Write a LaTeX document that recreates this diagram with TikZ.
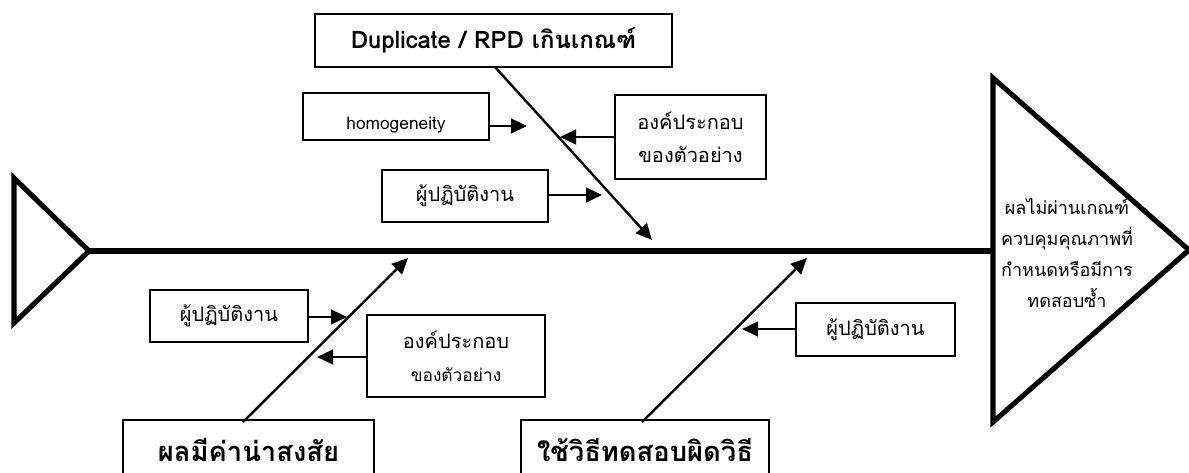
\documentclass[tikz,border=0pt]{standalone}
\usepackage{fontspec}
\setmainfont[Script=Thai]{Loma}
\usetikzlibrary{arrows.meta}
\tikzset{
  box/.style={draw, line width=1.5pt, inner sep=0pt, align=center, font=\fontsize{15}{25}\selectfont},
  headbox/.style={box, font=\bfseries\fontsize{18}{20}\selectfont},
  footbox/.style={box, font=\bfseries\fontsize{20.5}{22}\selectfont},
  size/.style 2 args={minimum width=#1*0.75pt, minimum height=#2*0.75pt},
  arr/.style={line width=1.8pt, -{Triangle[length=12pt,width=11pt]}},
  thick line/.style={line width=3.8pt, line join=miter},
}
\begin{document}
\begin{tikzpicture}[x=0.75pt,y=-0.75pt]
\useasboundingbox (0,0) rectangle (1189,472);
\begin{scope}
\clip (0,0) rectangle (1189,472);

% head and tail of the fish
\draw[thick line] (14,178) -- (89,251) -- (14,323) -- cycle;
\draw[thick line] (993,78) -- (1189,250) -- (993,422) -- cycle;
\coordinate (tail) at (89,251);
\coordinate (head) at (993,251);
\draw[thick line] (tail) -- (head);
\node[align=center, font=\fontsize{13.5}{23.3}\selectfont] (effect) at (1067,253)
  {ผลไม่ผ่านเกณฑ์\\ควบคุมคุณภาพที่\\กำหนดหรือมีการ\\ทดสอบซ้ำ};

% main causes
\node[headbox, size={357}{53}] (dup) at (493.5,40.5) {Duplicate / RPD เกินเกณฑ์};
\node[footbox, size={251}{60}] (sus) at (248.5,450) {ผลมีค่าน่าสงสัย};
\node[footbox, size={248}{60}] (meth) at (645,450) {ใช้วิธีทดสอบผิดวิธี};

% branch ends
\coordinate (dupStart) at (495,67);
\coordinate (susStart) at (243,422);
\coordinate (methStart) at (642,422);
\coordinate (dupEnd) at (652,240);
\coordinate (susEnd) at (408,258);
\coordinate (methEnd) at (807,258);
\draw[arr] (dupStart) -- (dupEnd);
\draw[arr] (susStart) -- (susEnd);
\draw[arr] (methStart) -- (methEnd);

% sub-causes
\node[box, size={186}{47}] (homog) at (396,116.5) {\raisebox{-10pt}[0pt][0pt]{\fontsize{13}{15}\selectfont homogeneity}};
\node[box, size={151}{84}] (comp1) at (690.5,137) {องค์ประกอบ\\ของตัวอย่าง};
\node[box, size={166}{52}] (op1) at (465,196) {ผู้ปฏิบัติงาน};
\node[box, size={158}{52}] (op2) at (229,316) {ผู้ปฏิบัติงาน};
\node[box, size={178}{82}] (comp2) at (456,356) {องค์ประกอบ\\{\fontsize{13}{25}\selectfont ของตัวอย่าง}};
\node[box, size={159}{53}] (op3) at (875.5,329.5) {ผู้ปฏิบัติงาน};

% arrow tips of the sub-causes
\coordinate (t1) at (527,126);
\coordinate (t2) at (560,137);
\coordinate (t3) at (602,195);
\coordinate (t4) at (347,317);
\coordinate (t5) at (317,357);
\coordinate (t6) at (742,329);
\draw[arr] (homog.east |- t1) -- (t1);
\draw[arr] (comp1.west |- t2) -- (t2);
\draw[arr] (op1.east |- t3) -- (t3);
\draw[arr] (op2.east |- t4) -- (t4);
\draw[arr] (comp2.west |- t5) -- (t5);
\draw[arr] (op3.west |- t6) -- (t6);
\end{scope}
\end{tikzpicture}
\end{document}
